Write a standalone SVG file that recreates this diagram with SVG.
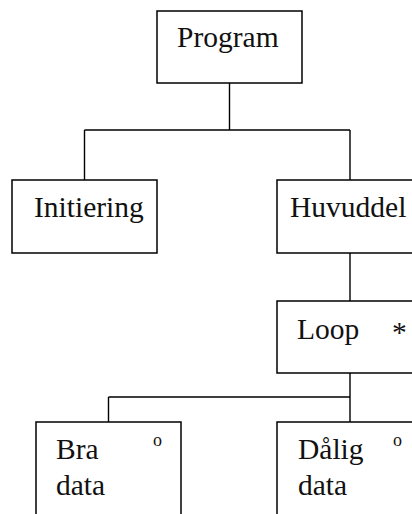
<svg xmlns="http://www.w3.org/2000/svg" width="412" height="514" viewBox="0 0 412 514">
  <style>
    .box { fill: #ffffff; stroke: #000000; stroke-width: 1.5; }
    .wire { fill: none; stroke: #000000; stroke-width: 1.4; }
    .lbl { font-family: "Liberation Serif", "Times New Roman", serif; font-size: 29.5px; fill: #111111; }
    .mark { font-family: "Liberation Serif", "Times New Roman", serif; font-size: 18px; fill: #111111; }
  </style>
  <rect width="412" height="514" fill="#ffffff"/>

  <!-- tree connectors -->
  <g id="connectors">
    <path class="wire" d="M229.5 83 V130 M84.5 130 H350 M84.5 130 V180 M350 130 V180"/>
    <path class="wire" d="M350 253 V301"/>
    <path class="wire" d="M350 373 V397 M108.5 397 H350 M108.5 397 V422 M350 397 V422"/>
  </g>

  <g id="program">
    <rect class="box" x="157" y="11" width="145" height="72"/>
    <text class="lbl" x="177" y="47">Program</text>
  </g>

  <g id="initiering">
    <rect class="box" x="12" y="180" width="145" height="73"/>
    <text class="lbl" x="34" y="217">Initiering</text>
  </g>

  <g id="huvuddel">
    <rect class="box" x="277" y="180" width="145" height="73"/>
    <text class="lbl" x="290" y="217">Huvuddel</text>
  </g>

  <g id="loop">
    <rect class="box" x="277" y="301" width="145" height="72"/>
    <text class="lbl" x="297" y="339">Loop</text>
    <text class="lbl" x="392" y="342">*</text>
  </g>

  <g id="bra-data">
    <rect class="box" x="36" y="422" width="145" height="110"/>
    <text class="lbl" x="56" y="459">Bra</text>
    <text class="lbl" x="56" y="495">data</text>
    <text class="mark" x="153" y="446">o</text>
  </g>

  <g id="dalig-data">
    <rect class="box" x="277" y="422" width="145" height="110"/>
    <text class="lbl" x="298" y="459">Dålig</text>
    <text class="lbl" x="298" y="495">data</text>
    <text class="mark" x="393" y="446">o</text>
  </g>
</svg>
